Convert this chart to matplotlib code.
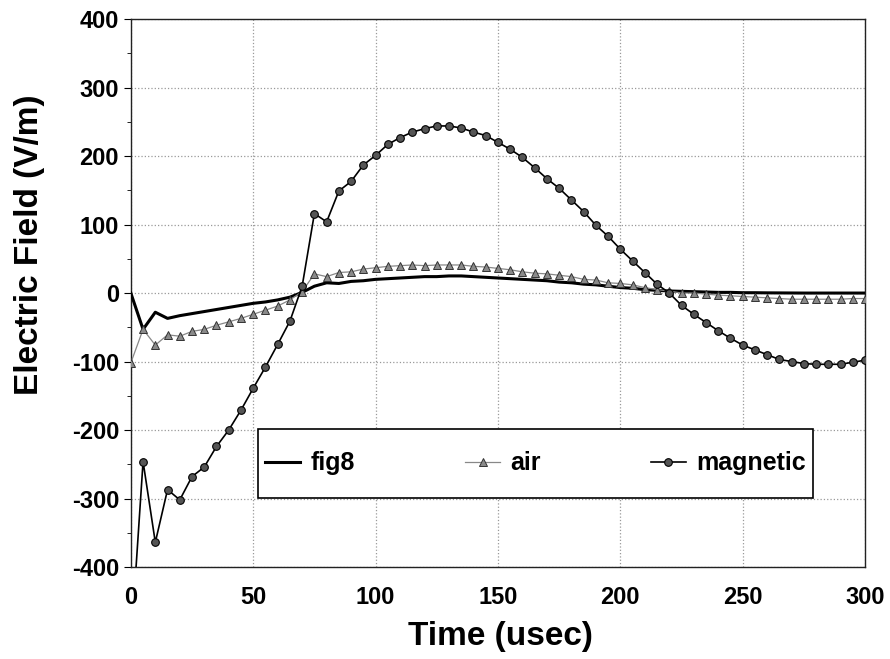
import matplotlib
matplotlib.use("Agg")
import matplotlib.pyplot as plt
from matplotlib.ticker import MultipleLocator
from matplotlib.patches import Rectangle

time_us = list(range(0, 301, 5))

fig8 = [0, -53, -28, -37, -33, -30, -27, -24, -21, -18, -15, -13, -10, -6, 1, 10,
        15, 14, 17, 18, 20, 21, 22, 23, 24, 24, 25, 25, 24, 23, 22, 21, 20, 19, 18,
        16, 15, 13, 12, 10, 8, 7, 5, 4, 3, 2.5, 2, 1.5, 1, 1, 0.5, 0.5, 0.3, 0.2,
        0.1, 0, 0, 0, 0, 0, 0]

air = [-102, -53, -76, -61, -63, -56, -53, -47, -42, -37, -31, -25, -19, -10, 2, 28,
       24, 30, 31, 35, 37, 39, 40, 41, 40, 41, 41, 41, 39, 38, 36, 34, 31, 29, 28,
       26, 24, 20, 19, 15, 14, 12, 8, 5, 3, 0, 0, -1.5, -3, -4, -5, -6, -7, -8,
       -9, -9, -9, -9, -9, -8, -8]

magnetic = [-515, -246, -364, -287, -302, -268, -254, -224, -200, -171, -139, -108,
            -75, -41, 10, 116, 104, 149, 163, 187, 201, 217, 227, 235, 240, 244, 244,
            241, 235, 230, 220, 210, 198, 183, 167, 153, 136, 119, 99, 83, 64, 47,
            30, 13, 0, -18, -31, -43, -55, -66, -76, -83, -90, -97, -100, -103, -104,
            -104, -104, -101, -98]

x_ticks = [0, 50, 100, 150, 200, 250, 300]
y_ticks = [-400, -300, -200, -100, 0, 100, 200, 300, 400]

plt.rcParams['font.family'] = ['Liberation Sans', 'DejaVu Sans']
plt.rcParams['axes.unicode_minus'] = False

fig = plt.figure(figsize=(8.9, 6.59), dpi=100)
ax = fig.add_axes([0.147, 0.1396, 0.825, 0.8314])

ax.plot(time_us, fig8, color='black', lw=2.2, label='fig8', zorder=3)
ax.plot(time_us, air, color='#888888', lw=0.9, marker='^', markersize=5.5,
        markerfacecolor='#8a8a8a', markeredgecolor='#333333', markeredgewidth=0.7,
        label='air', zorder=4)
ax.plot(time_us, magnetic, color='black', lw=1.2, marker='o', markersize=5.5,
        markerfacecolor='#555555', markeredgecolor='black', markeredgewidth=0.8,
        label='magnetic', zorder=5)

ax.set_xlim(0, 300)
ax.set_ylim(-400, 400)
ax.set_xticks(x_ticks)
ax.set_yticks(y_ticks)
ax.yaxis.set_minor_locator(MultipleLocator(50))
ax.grid(True, which='major', color='#999999', linestyle=':', linewidth=0.9)
ax.tick_params(axis='both', which='major', labelsize=17, length=5, width=0.8)
ax.tick_params(axis='y', which='minor', length=3, width=0.6)
ax.tick_params(axis='x', length=0, pad=14)
for lbl in ax.get_xticklabels() + ax.get_yticklabels():
    lbl.set_fontweight('bold')
for sp in ax.spines.values():
    sp.set_linewidth(1.0)
    sp.set_color('#222222')

ax.set_xlabel('Time (usec)', fontsize=24, fontweight='bold')
ax.xaxis.set_label_coords(0.504, -0.098)
ax.set_ylabel('Electric Field (V/m)', fontsize=24, fontweight='bold')
ax.yaxis.set_label_coords(-0.117, 0.588)

# legend box
box = (0.173, 0.126, 0.756, 0.126)
ax.add_patch(Rectangle(box[:2], box[2], box[3], transform=ax.transAxes,
                       facecolor='white', edgecolor='black', linewidth=1.2,
                       zorder=9))
leg = ax.legend(loc='center left', bbox_to_anchor=box, mode='expand', ncol=3,
                fontsize=18, frameon=False, handlelength=1.4,
                handletextpad=0.4, borderpad=0.3, borderaxespad=0)
leg.set_zorder(10)
for t in leg.get_texts():
    t.set_fontweight('bold')

fig.savefig('out.png', dpi=100)
